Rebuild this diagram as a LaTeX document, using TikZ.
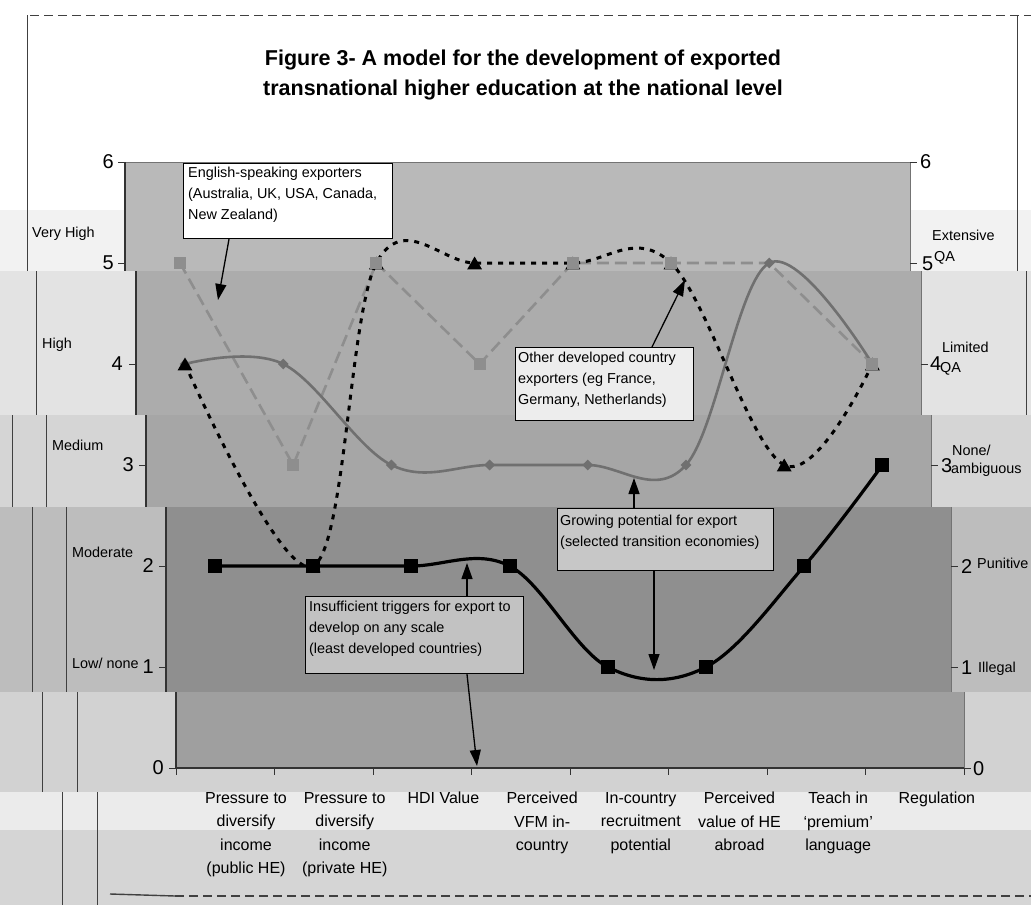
\documentclass[tikz,border=0pt]{standalone}
\usepackage{fontspec}
\setmainfont{Liberation Sans}
\usetikzlibrary{arrows.meta,shapes.geometric}
\definecolor{mA}{HTML}{F2F2F2}
\definecolor{mB}{HTML}{E3E3E3}
\definecolor{mC}{HTML}{D5D5D5}
\definecolor{mD}{HTML}{BDBDBD}
\definecolor{mE}{HTML}{D2D2D2}
\definecolor{mF}{HTML}{EBEBEB}
\definecolor{mG}{HTML}{D5D5D5}
\definecolor{pA}{HTML}{B9B9B9}
\definecolor{pB}{HTML}{ACACAC}
\definecolor{pC}{HTML}{A6A6A6}
\definecolor{pD}{HTML}{8F8F8F}
\definecolor{pE}{HTML}{9F9F9F}
\definecolor{sgray}{HTML}{707070}
\definecolor{lgray}{HTML}{8E8E8E}
\begin{document}
\begin{tikzpicture}[x=1pt,y=-1pt,
  lbl/.style={inner sep=0, anchor=base west, font=\fontsize{14.4}{21}\selectfont},
  numl/.style={inner sep=0, anchor=east, font=\fontsize{20}{24}\selectfont},
  numr/.style={inner sep=0, anchor=west, font=\fontsize{20}{24}\selectfont},
  catlbl/.style={inner sep=0, anchor=north, align=center, font=\fontsize{16}{23.5}\selectfont},
  titletext/.style={inner sep=0, anchor=north, align=center, font=\bfseries\fontsize{21.5}{30}\selectfont},
  callbox/.style={draw=black, line width=1.2pt, anchor=north west, inner sep=0},
  calltext/.style={inner sep=0, anchor=north west, align=left, font=\fontsize{14.4}{21}\selectfont},
  callarrow/.style={line width=1.3pt, -{Triangle[length=16pt,width=11pt]}},
  framel/.style={draw=black!75, line width=0.8pt},
  axisl/.style={draw=black!80, line width=1.1pt},
  s1line/.style={draw=black, line width=3.2pt},
  s2line/.style={draw=sgray, line width=2.6pt},
  s3line/.style={draw=black, line width=3pt, dash pattern=on 5pt off 6pt},
  s4line/.style={draw=lgray, line width=2.6pt, dash pattern=on 12pt off 6pt},
  sqmark/.style={rectangle, fill=black, minimum size=14pt, inner sep=0},
  gsmark/.style={rectangle, fill=lgray, minimum size=12pt, inner sep=0},
  dmmark/.style={diamond, fill=sgray, minimum width=11pt, minimum height=11pt, inner sep=0},
  trmark/.style={regular polygon, regular polygon sides=3, fill=black, minimum size=17pt, inner sep=0}
]
\useasboundingbox (0,0) rectangle (1031,905);
% ---- scan bands (margins)
\fill[white] (0,0) rectangle (1031,210);
\fill[mA] (0,210) rectangle (1031,271);
\fill[mB] (0,271) rectangle (1031,415);
\fill[mC] (0,415) rectangle (1031,507);
\fill[mD] (0,507) rectangle (1031,692);
\fill[mE] (0,692) rectangle (1031,792);
\fill[mF] (0,792) rectangle (1031,830);
\fill[mG] (0,830) rectangle (1031,905);
% ---- frame lines
\draw[framel, dash pattern=on 9pt off 5pt] (30,15) -- (1031,15);
\draw[framel] (27,15) -- (27,271);
\draw[framel] (36,271) -- (36,415);
\draw[framel] (12,415) -- (12,507);
\draw[framel] (46,415) -- (46,507);
\draw[framel] (32,507) -- (32,692);
\draw[framel] (66,507) -- (66,692);
\draw[framel] (42,692) -- (42,792);
\draw[framel] (77,692) -- (77,792);
\draw[framel] (62,792) -- (62,905);
\draw[framel] (97,792) -- (97,905);
\draw[framel] (1017,15) -- (1017,271);
\draw[framel] (1026,271) -- (1026,415);
\draw[framel, line width=1.4pt] (110,894) -- (175,896);
\draw[framel, line width=1.2pt, dash pattern=on 9pt off 5pt] (175,896) -- (1031,896);
% ---- plot area, in shifted bands
\fill[pA] (125,162) rectangle (910,271);
\fill[pB] (136,271) rectangle (921,415);
\fill[pC] (146,415) rectangle (931,507);
\fill[pD] (166,507) rectangle (951,692);
\fill[pE] (176,692) rectangle (964,768);
\draw[draw=black!55, line width=0.6pt] (125,162) -- (910,162) -- (910,271);
\draw[draw=black!55, line width=0.6pt] (921,271) -- (921,415);
\draw[draw=black!55, line width=0.6pt] (931,415) -- (931,507);
\draw[draw=black!55, line width=0.6pt] (951,507) -- (951,692);
\draw[draw=black!55, line width=0.6pt] (964,692) -- (964,768);
\draw[axisl] (125,162) -- (125,271);
\draw[axisl] (136,271) -- (136,415);
\draw[axisl] (146,415) -- (146,507);
\draw[axisl] (166,507) -- (166,692);
\draw[axisl] (176,692) -- (176,768) -- (964,768);
% ticks
\foreach \xl/\xr/\yy in {125/910/162,125/910/263,136/921/364,146/931/465,166/951/566,166/951/667,176/964/768}{
  \draw[axisl, line width=0.8pt] (\xl-7,\yy) -- (\xl,\yy);
  \draw[axisl, line width=0.8pt] (\xr,\yy) -- (\xr+7,\yy);
}
\foreach \k in {0,...,8}{
  \draw[axisl, line width=0.8pt] (176+98.5*\k,768) -- (176+98.5*\k,775);
}
% ---- series lines
\draw[s4line] (180,263) -- (293.2,465) -- (376.4,263) -- (479.6,364) -- (572.8,263) -- (671,263) -- (769.2,263) -- (872.4,364);
\draw[s2line] plot[smooth, tension=0.6] coordinates {(185,364) (283.2,364) (391.4,465) (489.6,465) (587.8,465) (686,465) (769.2,263) (872.4,364)};
\draw[s3line] plot[smooth, tension=0.6] coordinates {(185,364) (313.2,566) (376.4,263) (474.6,263) (572.8,263) (671,263) (784.2,465) (872.4,364)};
\draw[s1line] plot[smooth, tension=0.6] coordinates {(215,566) (313.2,566) (411.4,566) (509.6,566) (607.8,667) (706,667) (804.2,566) (882.4,465)};
% ---- markers
\foreach \px/\py [count=\i] in {185/364,283.2/364,391.4/465,489.6/465,587.8/465,686/465,769.2/263,872.4/364}
  {\node[dmmark] (s2p\i) at (\px,\py) {};}
\foreach \px/\py [count=\i] in {185/366,313.2/568,376.4/265,474.6/265,572.8/265,671/265,784.2/467,872.4/366}
  {\node[trmark] (s3p\i) at (\px,\py) {};}
\foreach \px/\py [count=\i] in {180/263,293.2/465,376.4/263,479.6/364,572.8/263,671/263,872.4/364}
  {\node[gsmark] (s4p\i) at (\px,\py) {};}
\foreach \px/\py [count=\i] in {215/566,313.2/566,411.4/566,509.6/566,607.8/667,706/667,804.2/566,882.4/465}
  {\node[sqmark] (s1p\i) at (\px,\py) {};}
% ---- title
\node[titletext] (title) at (523,50) {Figure 3- A model for the development of exported\\transnational higher education at the national level};
% ---- axis numbers
\node[numl] (l6) at (114,162) {6};
\node[numl] (l5) at (114,263) {5};
\node[numl] (l4) at (123,364) {4};
\node[numl] (l3) at (134,465) {3};
\node[numl] (l2) at (154,566) {2};
\node[numl] (l1) at (154,667) {1};
\node[numl] (l0) at (164,768) {0};
\node[numr] (r6) at (920,162) {6};
\node[numr] (r5) at (922,264) {5};
\node[numr] (r4) at (930,364) {4};
\node[numr] (r3) at (941,466) {3};
\node[numr] (r2) at (961,567) {2};
\node[numr] (r1) at (961,668) {1};
\node[numr] (r0) at (973,769) {0};
% ---- level labels
\node[lbl] (vh) at (32,237) {Very High};
\node[lbl] (hi) at (42,348) {High};
\node[lbl] (me) at (52,450) {Medium};
\node[lbl] (mo) at (72,557) {Moderate};
\node[lbl] (lo) at (72,668) {Low/ none};
\node[lbl] (ext) at (932,240) {Extensive};
\node[lbl] (qa5) at (934,261) {QA};
\node[lbl] (lim) at (942,352) {Limited};
\node[lbl] (qa4) at (940,372) {QA};
\node[lbl] (non) at (952,455) {None/};
\node[lbl] (amb) at (951,473) {ambiguous};
\node[lbl] (pun) at (977,568) {Punitive};
\node[lbl] (ill) at (978,672) {Illegal};
% ---- category labels
\node[catlbl] (c1) at (246,792) {Pressure to\\diversify\\income\\(public HE)};
\node[catlbl] (c2) at (344.7,792) {Pressure to\\diversify\\income\\(private HE)};
\node[catlbl] (c3) at (443.4,792) {HDI Value};
\node[catlbl] (c4) at (542.1,792) {Perceived\\VFM in-\\country};
\node[catlbl] (c5) at (640.8,792) {In-country\\recruitment\\potential};
\node[catlbl] (c6) at (739.5,792) {Perceived\\value of HE\\abroad};
\node[catlbl] (c7) at (838.2,792) {Teach in\\‘premium’\\language};
\node[catlbl] (c8) at (936.9,792) {Regulation};
% ---- callouts
\node[callbox, fill=white, minimum width=209pt, minimum height=75pt] (box1) at (183,163) {};
\node[calltext] (txt1) at (188,167) {English-speaking exporters\\(Australia, UK, USA, Canada,\\New Zealand)};
\node[callbox, fill=black!7, minimum width=178pt, minimum height=73pt] (box2) at (515,347) {};
\node[calltext] (txt2) at (518,352) {Other developed country\\exporters (eg France,\\Germany, Netherlands)};
\node[callbox, fill=black!22, minimum width=216pt, minimum height=62pt] (box3) at (557,508) {};
\node[calltext] (txt3) at (560,515) {Growing potential for export\\(selected transition economies)};
\node[callbox, fill=black!24, minimum width=218pt, minimum height=77pt] (box4) at (305,596) {};
\node[calltext] (txt4) at (309,601) {Insufficient triggers for export to\\develop on any scale\\(least developed countries)};
\coordinate (tipA) at (218,300);
\coordinate (tipB) at (685,280);
\coordinate (tipC) at (634,478);
\coordinate (tipD) at (654,670);
\coordinate (tipE) at (467,563);
\coordinate (tipF) at (477,766);
\draw[callarrow] ([xshift=46pt]box1.south west) -- (tipA);
\draw[callarrow] ([xshift=137pt]box2.north west) -- (tipB);
\draw[callarrow] ([xshift=77pt]box3.north west) -- (tipC);
\draw[callarrow] ([xshift=97pt]box3.south west) -- (tipD);
\draw[callarrow] ([xshift=162pt]box4.north west) -- (tipE);
\draw[callarrow] ([xshift=162pt]box4.south west) -- (tipF);
\end{tikzpicture}
\end{document}
